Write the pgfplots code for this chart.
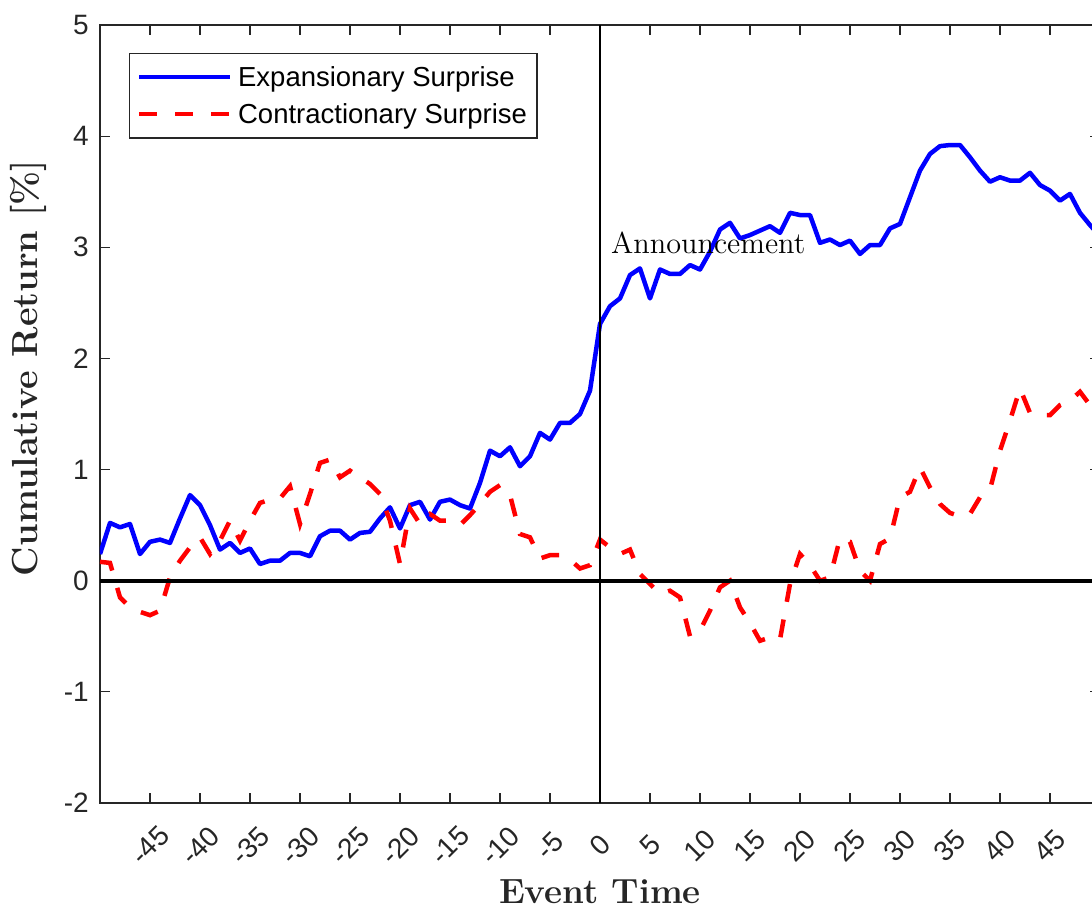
\documentclass[border=0pt]{standalone}
\usepackage{fontspec}
\usepackage{pgfplots}
\usepackage{pgfplotstable}
\pgfplotsset{compat=1.18}
\newfontfamily\arialfont{Liberation Sans}
\definecolor{axgray}{HTML}{262626}

\pgfplotstableread{
t v
-50 0.24
-49 0.52
-48 0.48
-47 0.51
-46 0.24
-45 0.35
-44 0.37
-43 0.34
-42 0.56
-41 0.77
-40 0.68
-39 0.50
-38 0.28
-37 0.34
-36 0.25
-35 0.29
-34 0.15
-33 0.18
-32 0.18
-31 0.25
-30 0.25
-29 0.22
-28 0.40
-27 0.45
-26 0.45
-25 0.37
-24 0.43
-23 0.44
-22 0.56
-21 0.66
-20 0.47
-19 0.68
-18 0.71
-17 0.55
-16 0.71
-15 0.73
-14 0.68
-13 0.65
-12 0.88
-11 1.17
-10 1.12
-9 1.20
-8 1.03
-7 1.12
-6 1.33
-5 1.27
-4 1.42
-3 1.42
-2 1.50
-1 1.71
0 2.31
1 2.47
2 2.54
3 2.75
4 2.81
5 2.54
6 2.80
7 2.76
8 2.76
9 2.84
10 2.80
11 2.96
12 3.16
13 3.22
14 3.08
15 3.11
16 3.15
17 3.19
18 3.13
19 3.31
20 3.29
21 3.29
22 3.04
23 3.07
24 3.02
25 3.06
26 2.94
27 3.02
28 3.02
29 3.17
30 3.21
31 3.45
32 3.69
33 3.84
34 3.91
35 3.92
36 3.92
37 3.81
38 3.69
39 3.59
40 3.63
41 3.60
42 3.60
43 3.67
44 3.56
45 3.51
46 3.42
47 3.48
48 3.31
49 3.20
50 3.10
}\expansion

\pgfplotstableread{
t v
-50 0.17
-49 0.16
-48 -0.15
-47 -0.24
-46 -0.28
-45 -0.31
-44 -0.27
-43 0.03
-42 0.18
-41 0.30
-40 0.39
-39 0.24
-38 0.36
-37 0.54
-36 0.36
-35 0.54
-34 0.70
-33 0.73
-32 0.74
-31 0.85
-30 0.51
-29 0.78
-28 1.06
-27 1.09
-26 0.93
-25 0.99
-24 0.93
-23 0.87
-22 0.78
-21 0.54
-20 0.15
-19 0.65
-18 0.51
-17 0.60
-16 0.54
-15 0.54
-14 0.50
-13 0.59
-12 0.69
-11 0.80
-10 0.86
-9 0.77
-8 0.42
-7 0.39
-6 0.20
-5 0.23
-4 0.23
-3 0.19
-2 0.11
-1 0.14
0 0.37
1 0.30
2 0.24
3 0.28
4 0.06
5 -0.03
6 -0.12
7 -0.09
8 -0.15
9 -0.50
10 -0.45
11 -0.27
12 -0.06
13 0.00
14 -0.24
15 -0.38
16 -0.54
17 -0.51
18 -0.53
19 -0.03
20 0.24
21 0.14
22 0.00
23 0.03
24 0.38
25 0.35
26 0.09
27 0.00
28 0.33
29 0.38
30 0.75
31 0.80
32 1.02
33 0.84
34 0.69
35 0.61
36 0.58
37 0.60
38 0.75
39 0.82
40 1.17
41 1.44
42 1.73
43 1.51
44 1.49
45 1.49
46 1.58
47 1.62
48 1.70
49 1.58
50 1.50
}\contraction

\begin{document}
\begin{tikzpicture}
\begin{axis}[
  name=ax,
  scale only axis, width=400pt, height=311.2pt,
  xmin=-50, xmax=50, ymin=-2, ymax=5,
  xtick={-45,-40,-35,-30,-25,-20,-15,-10,-5,0,5,10,15,20,25,30,35,40,45},
  xticklabels={-45,-40,-35,-30,-25,-20,-15,-10,-5,0,5,10,15,20,25,30,35,40,45},
  ytick={-2,-1,0,1,2,3,4,5},
  yticklabels={-2,-1,0,1,2,3,4,5},
  tick align=inside, major tick length=4pt,
  tick style={axgray, line width=0.5pt},
  axis line style={axgray, line width=0.5pt},
  ticklabel style={font=\arialfont\fontsize{11.2}{13}\selectfont, text=axgray},
  xticklabel style={rotate=45, anchor=center},
  xticklabel shift=17pt,
  yticklabel shift=1pt,
  every axis x label/.style={at={(axis description cs:0.5,0)}, anchor=base, yshift=-40.4pt},
  every axis y label/.style={at={(axis description cs:-0.072,0.559)}, rotate=90, anchor=center},
  label style={text=axgray},
  xlabel style={font=\bfseries\fontsize{14}{16}\selectfont},
  ylabel style={font=\bfseries\fontsize{14.5}{16}\selectfont},
  xlabel={Event Time},
  ylabel={Cumulative Return [\%]},
  legend style={at={(axis description cs:0.029,0.9644)}, anchor=north west,
    draw=axgray, line width=0.5pt, fill=white,
    font=\arialfont\fontsize{11}{13}\selectfont,
    inner xsep=3pt, inner ysep=4.3pt, row sep=4.3pt,
    nodes={inner xsep=1pt, inner ysep=0pt, text height=9pt, text depth=1.5pt},
    /tikz/every odd column/.append style={column sep=1.2pt}},
  legend cell align=left,
  legend image code/.code={\draw[#1] (0pt,0pt) -- (36.4pt,0pt);},
]
\addplot[blue, line width=1.8pt, line join=round] table[x=t, y=v] {\expansion};
\addlegendentry{Expansionary Surprise}
\addplot[red, line width=1.8pt, dash pattern=on 7.2pt off 7.2pt] table[x=t, y=v] {\contraction};
\addlegendentry{Contractionary Surprise}
\addplot[black, line width=1.6pt, forget plot] coordinates {(-50,0) (50,0)};
\addplot[black, line width=0.5pt, forget plot] coordinates {(0,-2) (0,5)};
\node[anchor=base west, inner sep=0pt, font=\fontsize{12.1}{14}\selectfont] at (axis cs:1.07,2.94) {Announcement};
\end{axis}
\pgfresetboundingbox
\path (ax.south west) ++(-40pt,-42.4pt) rectangle ++(436.8pt,363.6pt);
\end{tikzpicture}
\end{document}
